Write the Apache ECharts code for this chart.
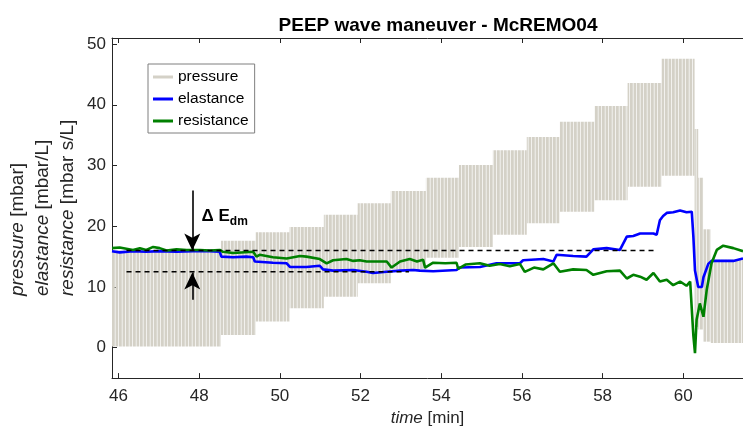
<!DOCTYPE html>
<html>
<head>
<meta charset="utf-8">
<title>PEEP wave maneuver - McREMO04</title>
<script src="https://cdn.jsdelivr.net/npm/echarts@6/dist/echarts.min.js"></script>
<style>
html, body { margin: 0; padding: 0; background: #fff; }
#chart { width: 743px; height: 432px; }
</style>
</head>
<body>
<div id="chart"></div>
<script>
// pressure: one band per PEEP step [min], PEEP (low) and peak (high) [mbar]
var stepStart = [45.70, 48.54, 49.40, 50.24, 51.09, 51.93, 52.75, 53.62, 54.44, 55.28, 56.12, 56.94, 57.80, 58.62, 59.46, 60.28, 60.37, 60.49, 60.68];
var stepEnd   = [48.54, 49.40, 50.24, 51.09, 51.93, 52.75, 53.62, 54.44, 55.28, 56.12, 56.94, 57.80, 58.62, 59.46, 60.28, 60.37, 60.49, 60.68, 61.60];
var stepPeep  = [0.2, 2.1, 4.3, 6.5, 8.4, 10.6, 12.9, 14.8, 16.6, 18.6, 20.5, 22.4, 24.3, 26.5, 28.3, 3.4, 3.0, 1.0, 0.8];
var stepPeak  = [16.0, 17.6, 19.0, 19.9, 21.9, 23.8, 25.8, 28.0, 30.1, 32.5, 34.7, 37.2, 39.8, 43.6, 47.6, 36.0, 28.0, 19.5, 14.5];

// elastance [mbar/L]
var elastTime = [45.84, 46.03, 46.36, 46.69, 47.02, 47.44, 47.85, 48.26, 48.51, 48.55, 48.84, 49.17, 49.34, 49.38, 49.83, 50.17, 50.25, 50.66, 50.99, 51.07, 51.32, 51.82, 52.15, 52.31, 52.65, 52.98, 53.30, 53.47, 53.80, 54.38, 54.46, 54.96, 55.37, 55.95, 56.03, 56.53, 56.78, 56.86, 57.27, 57.60, 57.77, 58.10, 58.43, 58.60, 58.76, 58.93, 59.26, 59.34, 59.42, 59.50, 59.59, 59.75, 59.92, 60.08, 60.21, 60.25, 60.29, 60.37, 60.46, 60.50, 60.62, 60.70, 60.99, 61.24, 61.48];
var elastVal  = [15.9, 15.7, 15.9, 15.8, 15.9, 15.8, 15.9, 15.9, 15.8, 15.0, 14.9, 15.0, 14.9, 14.2, 14.0, 13.9, 13.3, 13.3, 13.5, 12.9, 12.7, 12.8, 12.5, 12.3, 12.5, 12.7, 12.8, 12.7, 12.6, 12.8, 13.2, 13.3, 13.9, 13.9, 14.4, 14.6, 14.2, 15.3, 15.1, 15.0, 16.2, 16.4, 16.1, 18.3, 18.4, 18.8, 18.8, 18.6, 21.0, 21.7, 22.2, 22.3, 22.6, 22.3, 22.4, 18.3, 12.7, 10.0, 10.0, 11.6, 13.8, 14.3, 14.3, 14.3, 14.7];

// resistance [mbar s/L]
var resistTime = [45.84, 46.03, 46.36, 46.53, 46.69, 46.86, 47.02, 47.19, 47.44, 47.69, 48.02, 48.26, 48.51, 48.59, 48.84, 49.34, 49.42, 49.50, 49.83, 50.17, 50.50, 50.66, 50.99, 51.16, 51.32, 51.65, 51.82, 51.98, 52.15, 52.65, 52.77, 52.98, 53.22, 53.40, 53.55, 53.60, 53.80, 54.10, 54.38, 54.42, 54.60, 54.96, 55.20, 55.45, 55.70, 55.95, 56.07, 56.30, 56.53, 56.78, 56.94, 57.27, 57.60, 57.77, 58.10, 58.43, 58.60, 58.76, 58.93, 59.09, 59.26, 59.42, 59.59, 59.75, 59.92, 60.08, 60.17, 60.21, 60.25, 60.29, 60.33, 60.41, 60.50, 60.58, 60.70, 60.83, 60.99, 61.24, 61.48];
var resistVal  = [16.4, 16.5, 16.1, 16.4, 16.1, 16.6, 16.4, 16.0, 16.2, 16.1, 16.1, 16.0, 16.1, 15.8, 15.6, 15.8, 15.0, 15.3, 14.9, 14.7, 15.1, 15.0, 14.6, 13.9, 14.4, 14.6, 14.3, 14.4, 14.2, 14.2, 13.2, 14.2, 14.6, 14.2, 14.5, 13.2, 14.0, 13.9, 14.0, 13.0, 13.7, 13.9, 13.5, 13.8, 13.4, 13.8, 12.5, 13.2, 12.9, 13.9, 12.5, 12.9, 12.8, 12.0, 12.6, 12.7, 11.4, 12.0, 11.7, 11.2, 12.3, 10.9, 11.2, 10.3, 10.9, 10.2, 10.9, 10.9, 2.0, -0.9, 4.6, 7.3, 5.1, 9.5, 13.9, 16.1, 16.8, 16.4, 15.9];

// delta E_dm annotation
var edmUpperX = [46.2, 59.3], edmUpperY = 16.0;
var edmLowerX = [46.2, 53.2], edmLowerY = 12.5;
var arrowX = 47.83;
var arrowTop = [25.9, 16.0];   // from, to (tip)
var arrowBottom = [7.9, 12.4];

var xTicks = [46, 48, 50, 52, 54, 56, 58, 60];
var yTicks = [0, 10, 20, 30, 40, 50];

var FONT = 'Liberation Sans';
var AX = '#262626';
var GRAY = '#d4d1c7';

function zip(a, b) {
	var out = [];
	for (var i = 0; i < a.length; i++) out.push([a[i], b[i]]);
	return out;
}

var pressureData = [];
for (var i = 0; i < stepStart.length; i++) {
	pressureData.push([stepStart[i], stepEnd[i], stepPeep[i], stepPeak[i]]);
}

// striped fill for the breath-by-breath pressure trace
var stripe = document.createElement('canvas');
stripe.width = 7;
stripe.height = 4;
var sctx = stripe.getContext('2d');
sctx.fillStyle = GRAY;
sctx.fillRect(0, 0, 2.8, 4);
sctx.fillRect(3.5, 0, 2.8, 4);

var myChart = echarts.init(document.getElementById('chart'));

var option = {
	animation: false,
	title: {
		text: 'PEEP wave maneuver - McREMO04',
		left: 433,
		top: 11,
		textAlign: 'center',
		textStyle: { fontFamily: FONT, fontSize: 19, fontWeight: 'bold', color: '#000' }
	},
	legend: {
		orient: 'vertical',
		left: 148,
		top: 64,
		padding: [5, 6, 4, 5],
		itemWidth: 20,
		itemHeight: 3,
		itemGap: 6,
		borderColor: '#7f7f7f',
		borderWidth: 1,
		backgroundColor: '#fff',
		textStyle: { fontFamily: FONT, fontSize: 15.5, color: '#000', lineHeight: 15 },
		data: [
			{ name: 'pressure', icon: 'rect' },
			{ name: 'elastance', icon: 'rect' },
			{ name: 'resistance', icon: 'rect' }
		]
	},
	grid: { left: 112, right: 0, top: 38, bottom: 53 },
	xAxis: [{
		type: 'value',
		min: 45.84,
		max: 61.48,
		splitNumber: 8,
		position: 'bottom',
		axisLine: { onZero: false, lineStyle: { color: AX, width: 1 } },
		axisTick: { inside: true, length: 5, lineStyle: { color: AX } },
		axisLabel: {
			fontFamily: FONT, fontSize: 17, color: AX, margin: 10,
			showMinLabel: false, showMaxLabel: false,
			formatter: function (v) { return xTicks.indexOf(v) >= 0 ? String(v) : ''; }
		},
		splitLine: { show: false },
		name: '{i|time} [min]',
		nameLocation: 'middle',
		nameGap: 21,
		nameTextStyle: {
			fontFamily: FONT, fontSize: 17, color: AX,
			rich: { i: { fontFamily: FONT, fontSize: 17, fontStyle: 'italic', color: AX } }
		}
	}, {
		type: 'value',
		min: 45.84,
		max: 61.48,
		splitNumber: 8,
		position: 'top',
		axisLine: { onZero: false, lineStyle: { color: AX, width: 1 } },
		axisTick: { inside: true, length: 5, lineStyle: { color: AX } },
		axisLabel: { show: false },
		splitLine: { show: false }
	}],
	yAxis: {
		type: 'value',
		min: -5,
		max: 51,
		axisLine: { show: true, onZero: false, lineStyle: { color: AX, width: 1 } },
		axisTick: { show: true, inside: true, length: 5, lineStyle: { color: AX } },
		axisLabel: {
			fontFamily: FONT, fontSize: 17, color: AX, margin: 6,
			showMinLabel: false, showMaxLabel: false,
			formatter: function (v) { return yTicks.indexOf(v) >= 0 ? String(v) : ''; }
		},
		splitLine: { show: false }
	},
	graphic: [{
		type: 'text',
		x: 43,
		y: 296,
		rotation: Math.PI / 2,
		silent: true,
		style: {
			text: '{i|pressure} [mbar]\n{i|elastance} [mbar/L]\n{i|resistance} [mbar s/L]',
			fontFamily: FONT,
			fontSize: 19,
			lineHeight: 25,
			fill: AX,
			align: 'left',
			verticalAlign: 'middle',
			rich: { i: { fontFamily: FONT, fontSize: 19, fontStyle: 'italic', lineHeight: 25, fill: AX } }
		}
	}],
	series: [
		{
			name: 'pressure',
			type: 'custom',
			xAxisIndex: 0,
			itemStyle: { color: GRAY },
			encode: { x: [0, 1], y: [2, 3] },
			data: pressureData,
			z: 1,
			renderItem: function (params, api) {
				var p0 = api.coord([api.value(0), api.value(3)]);
				var p1 = api.coord([api.value(1), api.value(2)]);
				var cs = params.coordSys;
				var shape = echarts.graphic.clipRectByRect(
					{ x: p0[0], y: p0[1], width: p1[0] - p0[0], height: p1[1] - p0[1] },
					{ x: cs.x, y: cs.y, width: cs.width, height: cs.height }
				);
				if (!shape) return;
				return {
					type: 'rect',
					shape: shape,
					style: { fill: { image: stripe, repeat: 'repeat' } }
				};
			}
		},
		{
			name: 'elastance',
			type: 'line',
			showSymbol: false,
			symbol: 'none',
			color: '#0000ff',
			lineStyle: { color: '#0000ff', width: 2.6 },
			data: zip(elastTime, elastVal),
			z: 3
		},
		{
			name: 'resistance',
			type: 'line',
			showSymbol: false,
			symbol: 'none',
			color: '#008000',
			lineStyle: { color: '#008000', width: 2.6 },
			data: zip(resistTime, resistVal),
			z: 4
		},
		{
			name: 'edmUpper',
			type: 'line',
			symbol: 'none',
			lineStyle: { color: '#000', width: 1.5, type: [5, 4] },
			data: [[edmUpperX[0], edmUpperY], [edmUpperX[1], edmUpperY]],
			z: 5
		},
		{
			name: 'edmLower',
			type: 'line',
			symbol: 'none',
			lineStyle: { color: '#000', width: 1.5, type: [5, 4] },
			data: [[edmLowerX[0], edmLowerY], [edmLowerX[1], edmLowerY]],
			z: 5,
			markLine: {
				silent: true,
				symbol: ['none', 'arrow'],
				symbolSize: [12, 17],
				label: { show: false },
				lineStyle: { color: '#000', width: 1.6, type: 'solid' },
				data: [
					[{ coord: [arrowX, arrowTop[0]] }, { coord: [arrowX, arrowTop[1]] }],
					[{ coord: [arrowX, arrowBottom[0]] }, { coord: [arrowX, arrowBottom[1]] }]
				]
			},
			markPoint: {
				silent: true,
				symbol: 'rect',
				symbolSize: 0,
				data: [{ coord: [48.06, 21.7] }],
				label: {
					show: true,
					position: 'inside',
					align: 'left',
					verticalAlign: 'middle',
					formatter: '{d|\u0394 }{e|E}{s|dm}',
					rich: {
						d: { fontFamily: FONT, fontSize: 17, fontWeight: 'bold', color: '#000' },
						e: { fontFamily: FONT, fontSize: 17, fontWeight: 'bold', color: '#000' },
						s: { fontFamily: FONT, fontSize: 12, fontWeight: 'bold', color: '#000', padding: [12, 0, 0, 0] }
					}
				}
			}
		}
	]
};

myChart.setOption(option);
</script>
</body>
</html>
